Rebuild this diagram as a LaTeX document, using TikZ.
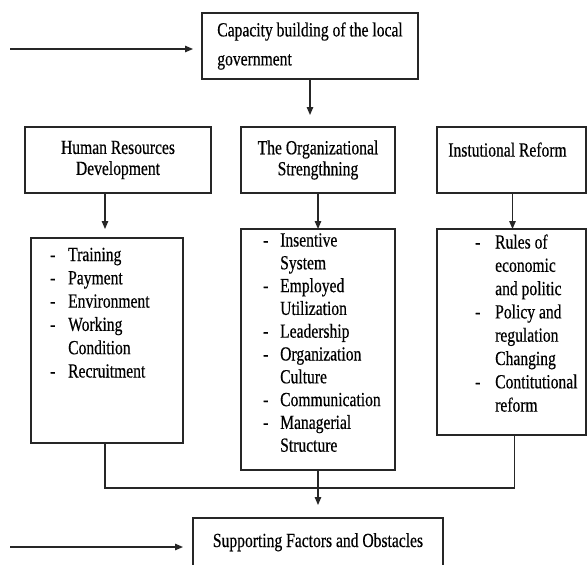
\documentclass[tikz,border=0pt]{standalone}
\usepackage{fontspec}
\setmainfont{Liberation Serif}[FakeStretch=0.78, FakeBold=0.4]
\usepackage{array}
\usetikzlibrary{arrows.meta}

\tikzset{
  frame/.style={draw=black!85, line width=1.3pt, inner sep=0pt, outer sep=0pt, anchor=north west},
  arr/.style={line width=1.3pt, draw=black!85, -{Triangle[length=8pt,width=6.5pt]}},
  link/.style={line width=1.3pt, draw=black!85},
  headtext/.style={font=\fontsize{20pt}{21pt}\selectfont, align=center},
  listtext/.style={font=\fontsize{20pt}{23.3pt}\selectfont, anchor=base west, inner sep=0pt},
}

\begin{document}
\begin{tikzpicture}[x=1pt,y=-1pt]
\useasboundingbox (0,0) rectangle (587,565);
\clip (0,0) rectangle (587,565);
\fill[white] (0,0) rectangle (587,565);

% top level
\node[frame, minimum width=216pt, minimum height=66pt, align=left,
      font=\fontsize{20pt}{29pt}\selectfont] (cap) at (202,13)
  {Capacity building of the local\\government};

% three strands
\node[frame, minimum width=186pt, minimum height=66pt, headtext] (hrd) at (25,127)
  {Human Resources\\Development};
\node[frame, minimum width=154pt, minimum height=66pt, headtext] (org) at (241,127)
  {The Organizational\\Strengthning};
\node[frame, minimum width=149pt, minimum height=66pt, headtext, align=left] (ins) at (437,127)
  {Instutional Reform\hspace*{8pt}\\\mbox{}};

% list boxes
\node[frame, minimum width=152pt, minimum height=205pt] (hrdl) at (31,238) {};
\node[frame, minimum width=154pt, minimum height=241pt] (orgl) at (241,229) {};
\node[frame, minimum width=149pt, minimum height=206pt] (insl) at (437,229) {};

\node[listtext] (hrdt) at ([xshift=19pt,yshift=-23pt]hrdl.north west)
  {\begin{tabular}[t]{@{}p{18pt}@{}l@{}}
   -&Training\\ -&Payment\\ -&Environment\\ -&Working\\ &Condition\\ -&Recruitment
   \end{tabular}};
\node[listtext, font=\fontsize{20pt}{22.8pt}\selectfont] (orgt) at ([xshift=22pt,yshift=-17.5pt]orgl.north west)
  {\begin{tabular}[t]{@{}p{17pt}@{}l@{}}
   -&Insentive\\ &System\\ -&Employed\\ &Utilization\\ -&Leadership\\ -&Organization\\
   &Culture\\ -&Communication\\ -&Managerial\\ &Structure
   \end{tabular}};
\node[listtext] (inst) at ([xshift=38pt,yshift=-19.5pt]insl.north west)
  {\begin{tabular}[t]{@{}p{20pt}@{}l@{}}
   -&Rules of\\ &economic\\ &and politic\\ -&Policy and\\ &regulation\\ &Changing\\
   -&Contitutional\\ &reform
   \end{tabular}};

% outcome
\node[frame, minimum width=250pt, minimum height=80pt] (sup) at (193,518) {};
\node[font=\fontsize{20pt}{21pt}\selectfont, anchor=base, inner sep=0pt] (supt)
  at ([yshift=-29pt]sup.north) {Supporting Factors and Obstacles};

% connectors
\coordinate (in1) at (10,49);
\coordinate (in2) at (10,547);
\draw[arr, shorten >=9pt] (in1) -- (cap.west |- in1);
\draw[arr, shorten >=12pt] (cap.south) -- (cap.south |- org.north);
\draw[arr, shorten >=9pt] ([xshift=-13pt]hrd.south) -- ([xshift=-13pt]hrd.south |- hrdl.north);
\draw[arr] (org.south) -- (org.south |- orgl.north);
\draw[arr] ([xshift=1pt]ins.south) -- ([xshift=1pt]ins.south |- insl.north);
\draw[link] ([xshift=-2pt]hrdl.south) -- ++(0,45) -| ([xshift=3pt]insl.south);
\draw[arr, shorten >=13pt] (orgl.south) -- (orgl.south |- sup.north);
\draw[arr, shorten >=10pt] (in2) -- (sup.west |- in2);
\end{tikzpicture}
\end{document}
